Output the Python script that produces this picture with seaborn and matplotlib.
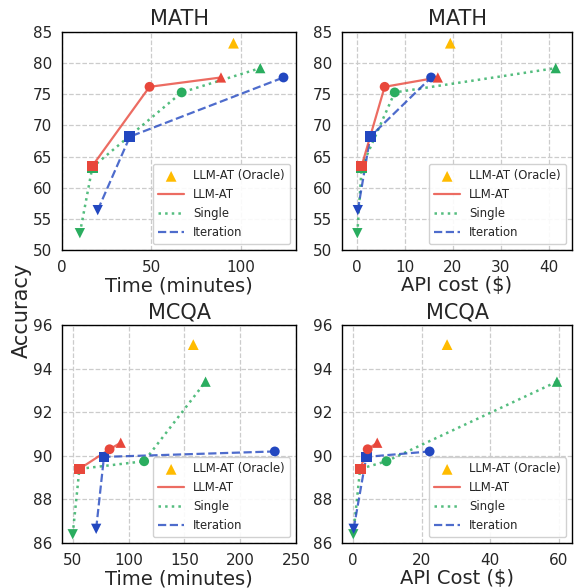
import matplotlib
matplotlib.use("Agg")
import matplotlib.pyplot as plt
import seaborn as sns
import pandas as pd

# ---- data ----
levels = ["v", "s", "o", "^"]  # model sizes (small -> large)

# MATH, time (minutes)
math_time_llmat_x = [17, 49, 89]
math_time_llmat_y = [63.5, 76.2, 77.7]
math_time_single_x = [10, 17, 67, 111]
math_time_single_y = [52.7, 63.3, 75.3, 79.2]
math_time_iter_x = [20, 38, 124]
math_time_iter_y = [56.4, 68.2, 77.7]
math_time_oracle = (96, 83.2)

# MATH, API cost ($)
math_cost_llmat_x = [1.0, 5.8, 16.9]
math_cost_llmat_y = [63.5, 76.2, 77.7]
math_cost_single_x = [0.1, 1.0, 7.9, 41.5]
math_cost_single_y = [52.7, 63.3, 75.3, 79.2]
math_cost_iter_x = [0.2, 2.8, 15.5]
math_cost_iter_y = [56.4, 68.2, 77.7]
math_cost_oracle = (19.5, 83.2)

# MCQA, time (minutes)
mcqa_time_llmat_x = [56, 83, 93]
mcqa_time_llmat_y = [89.4, 90.3, 90.6]
mcqa_time_single_x = [50, 56, 114, 169]
mcqa_time_single_y = [86.4, 89.4, 89.75, 93.4]
mcqa_time_iter_x = [71, 78, 231]
mcqa_time_iter_y = [86.65, 89.95, 90.2]
mcqa_time_oracle = (158, 95.1)

# MCQA, API cost ($)
mcqa_cost_llmat_x = [2.0, 4.2, 7.0]
mcqa_cost_llmat_y = [89.4, 90.3, 90.6]
mcqa_cost_single_x = [0.0, 2.0, 9.7, 59.5]
mcqa_cost_single_y = [86.4, 89.4, 89.75, 93.4]
mcqa_cost_iter_x = [0.1, 3.8, 22.3]
mcqa_cost_iter_y = [86.65, 89.95, 90.2]
mcqa_cost_oracle = (27.4, 95.1)

RED = "#e8473b"
GREEN = "#2aad5f"
BLUE = "#2247c0"
YELLOW = "#ffbb00"

panels = [
    dict(title="MATH", xlabel="Time (minutes)",
         llmat=(math_time_llmat_x, math_time_llmat_y, levels[1:]),
         single=(math_time_single_x, math_time_single_y, levels),
         it=(math_time_iter_x, math_time_iter_y, levels[:3]),
         oracle=math_time_oracle, xlim=(0, 131), ylim=(50, 85),
         xticks=[0, 50, 100], yticks=[50, 55, 60, 65, 70, 75, 80, 85]),
    dict(title="MATH", xlabel="API cost ($)",
         llmat=(math_cost_llmat_x, math_cost_llmat_y, levels[1:]),
         single=(math_cost_single_x, math_cost_single_y, levels),
         it=(math_cost_iter_x, math_cost_iter_y, levels[:3]),
         oracle=math_cost_oracle, xlim=(-3.1, 44.9), ylim=(50, 85),
         xticks=[0, 10, 20, 30, 40], yticks=[50, 55, 60, 65, 70, 75, 80, 85]),
    dict(title="MCQA", xlabel="Time (minutes)",
         llmat=(mcqa_time_llmat_x, mcqa_time_llmat_y, levels[1:]),
         single=(mcqa_time_single_x, mcqa_time_single_y, levels),
         it=(mcqa_time_iter_x, mcqa_time_iter_y, levels[:3]),
         oracle=mcqa_time_oracle, xlim=(40.4, 250), ylim=(86, 96),
         xticks=[50, 100, 150, 200, 250], yticks=[86, 88, 90, 92, 94, 96]),
    dict(title="MCQA", xlabel="API Cost ($)",
         llmat=(mcqa_cost_llmat_x, mcqa_cost_llmat_y, levels[1:]),
         single=(mcqa_cost_single_x, mcqa_cost_single_y, levels),
         it=(mcqa_cost_iter_x, mcqa_cost_iter_y, levels[:3]),
         oracle=mcqa_cost_oracle, xlim=(-3.3, 63.9), ylim=(86, 96),
         xticks=[0, 20, 40, 60], yticks=[86, 88, 90, 92, 94, 96]),
]

sns.set_style("white")
plt.rcParams["font.family"] = ["DejaVu Sans"]

fig = plt.figure(figsize=(5.74, 5.88), dpi=100)
W, H = 574, 588
boxes = [(62, 32, 296, 250), (342, 32, 572, 250),
         (62, 325, 296, 543), (342, 325, 572, 543)]

msizes = {"v": 55, "s": 60, "o": 50, "^": 55}
for p, (x0, y0, x1, y1) in zip(panels, boxes):
    ax = fig.add_axes([x0 / W, 1 - y1 / H, (x1 - x0) / W, (y1 - y0) / H])
    ax.set_axisbelow(True)
    ax.grid(True, linestyle="--", color="#cccccc", linewidth=0.9)
    # oracle
    ox, oy = p["oracle"]
    sns.scatterplot(x=[ox], y=[oy], marker="^", color=YELLOW, s=60,
                    edgecolor="none", ax=ax, label="LLM-AT (Oracle)", zorder=5)
    series = [("single", GREEN, ":", "Single", 1.8),
              ("it", BLUE, "--", "Iteration", 1.6),
              ("llmat", RED, "-", "LLM-AT", 1.6)]
    for key, col, ls, lab, lw in series:
        xs, ys, mk = p[key]
        df = pd.DataFrame({"x": xs, "y": ys, "m": mk})
        sns.lineplot(data=df, x="x", y="y", sort=False, color=col, linestyle=ls,
                     linewidth=lw, alpha=0.8, ax=ax, label=lab, zorder=3)
        for m in mk:
            sub = df[df["m"] == m]
            sns.scatterplot(data=sub, x="x", y="y", marker=m, color=col,
                            s=msizes[m], edgecolor="none", ax=ax, legend=False,
                            zorder=4)
    ax.set_xlim(*p["xlim"])
    ax.set_ylim(*p["ylim"])
    ax.set_xticks(p["xticks"])
    ax.set_yticks(p["yticks"])
    ax.tick_params(labelsize=11, length=3.5, width=0.8, color="#333333")
    ax.set_title(p["title"], fontsize=15, pad=5)
    ax.set_xlabel(p["xlabel"], fontsize=14, labelpad=1)
    ax.set_ylabel("")
    for s in ax.spines.values():
        s.set_visible(True)
        s.set_color("black")
        s.set_linewidth(1.0)
    h, l = ax.get_legend_handles_labels()
    order = ["LLM-AT (Oracle)", "LLM-AT", "Single", "Iteration"]
    hd = dict(zip(l, h))
    ax.legend([hd[o] for o in order], order, loc="lower right", fontsize=8.4,
              framealpha=0.9, borderpad=0.45, labelspacing=0.5,
              handlelength=2.2, fancybox=True, borderaxespad=0.5)

fig.text(22 / W, 1 - 310 / H, "Accuracy", rotation=90, fontsize=15,
         ha="center", va="center")

fig.savefig("out.png", dpi=100)
